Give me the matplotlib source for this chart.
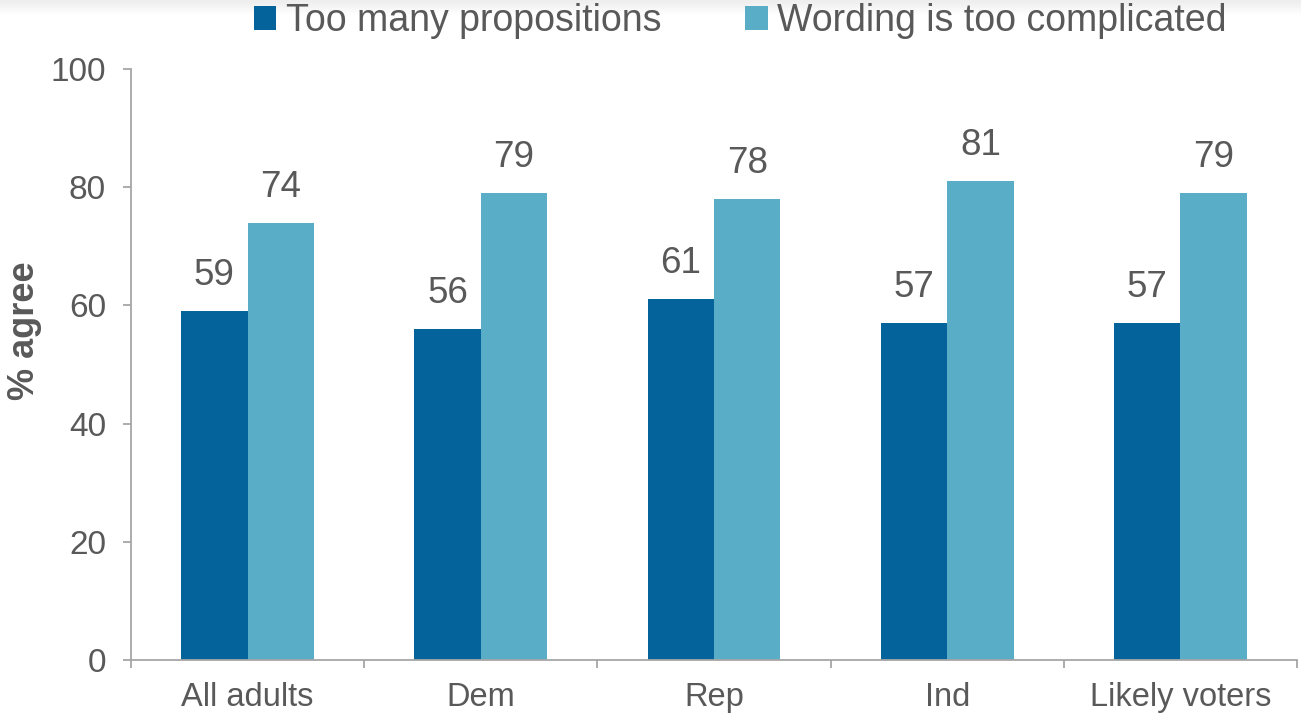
import numpy as np
import matplotlib
matplotlib.use('Agg')
from matplotlib import pyplot as plt

# data
categories = ['All adults', 'Dem', 'Rep', 'Ind', 'Likely voters']
too_many = [59, 56, 61, 57, 57]
too_complicated = [74, 79, 78, 81, 79]
series_names = ['Too many propositions', 'Wording is too complicated']
yticks = [0, 20, 40, 60, 80, 100]

dark = '#03639A'
light = '#5AADC6'
txt = '#595959'
axcol = '#A6A6A6'

plt.rcParams['font.family'] = ['Liberation Sans', 'DejaVu Sans']

fig = plt.figure(figsize=(13.01, 7.15), dpi=100)

# faint grey band at the very top
band = fig.add_axes([0, 0.978, 1, 0.022], zorder=-5)
band.imshow(np.linspace(0.93, 1.0, 20).reshape(-1, 1), cmap='gray', vmin=0, vmax=1,
            aspect='auto', extent=[0, 1, 0, 1])
band.axis('off')

ax = fig.add_axes([131 / 1301, 55 / 715, 1166 / 1301, 591 / 715])

x = np.arange(len(categories))
w = 0.285
b1 = ax.bar(x - w / 2, too_many, w, color=dark, label=series_names[0])
b2 = ax.bar(x + w / 2, too_complicated, w, color=light, label=series_names[1])

for bars, vals in [(b1, too_many), (b2, too_complicated)]:
    for r, v in zip(bars, vals):
        ax.annotate(str(v), (r.get_x() + r.get_width() / 2, v), xytext=(0, 13),
                    textcoords='offset points', ha='center', va='bottom',
                    fontsize=26.5, color=txt)

ax.set_xlim(-0.5, len(categories) - 0.5)
ax.set_ylim(0, 100)
ax.set_yticks(yticks)
ax.tick_params(axis='y', labelsize=24, colors=axcol, labelcolor=txt, length=6, width=1.3, pad=12)

# major ticks at category borders, labels at centres
ax.set_xticks(np.arange(len(categories) + 1) - 0.5)
ax.set_xticklabels([])
ax.set_xticks(x, minor=True)
ax.set_xticklabels(categories, minor=True)
ax.tick_params(axis='x', which='major', colors=axcol, length=6, width=1.3)
ax.tick_params(axis='x', which='minor', length=0, labelsize=23.5, labelcolor=txt, pad=16)

for s in ['top', 'right']:
    ax.spines[s].set_visible(False)
for s in ['left', 'bottom']:
    ax.spines[s].set_color(axcol)
    ax.spines[s].set_linewidth(1.3)

ax.set_ylabel('% agree', fontsize=26, fontweight='bold', color=txt)
ax.yaxis.set_label_coords(-0.076, 0.557)

fig.legend(handles=[b1, b2], loc='center', bbox_to_anchor=(0.569, 1 - 21 / 715), ncol=2,
           frameon=False, fontsize=27, labelcolor=txt, handlelength=0.6, handleheight=0.6,
           handletextpad=0.25, columnspacing=2.25)

fig.savefig('out.png', dpi=100)
